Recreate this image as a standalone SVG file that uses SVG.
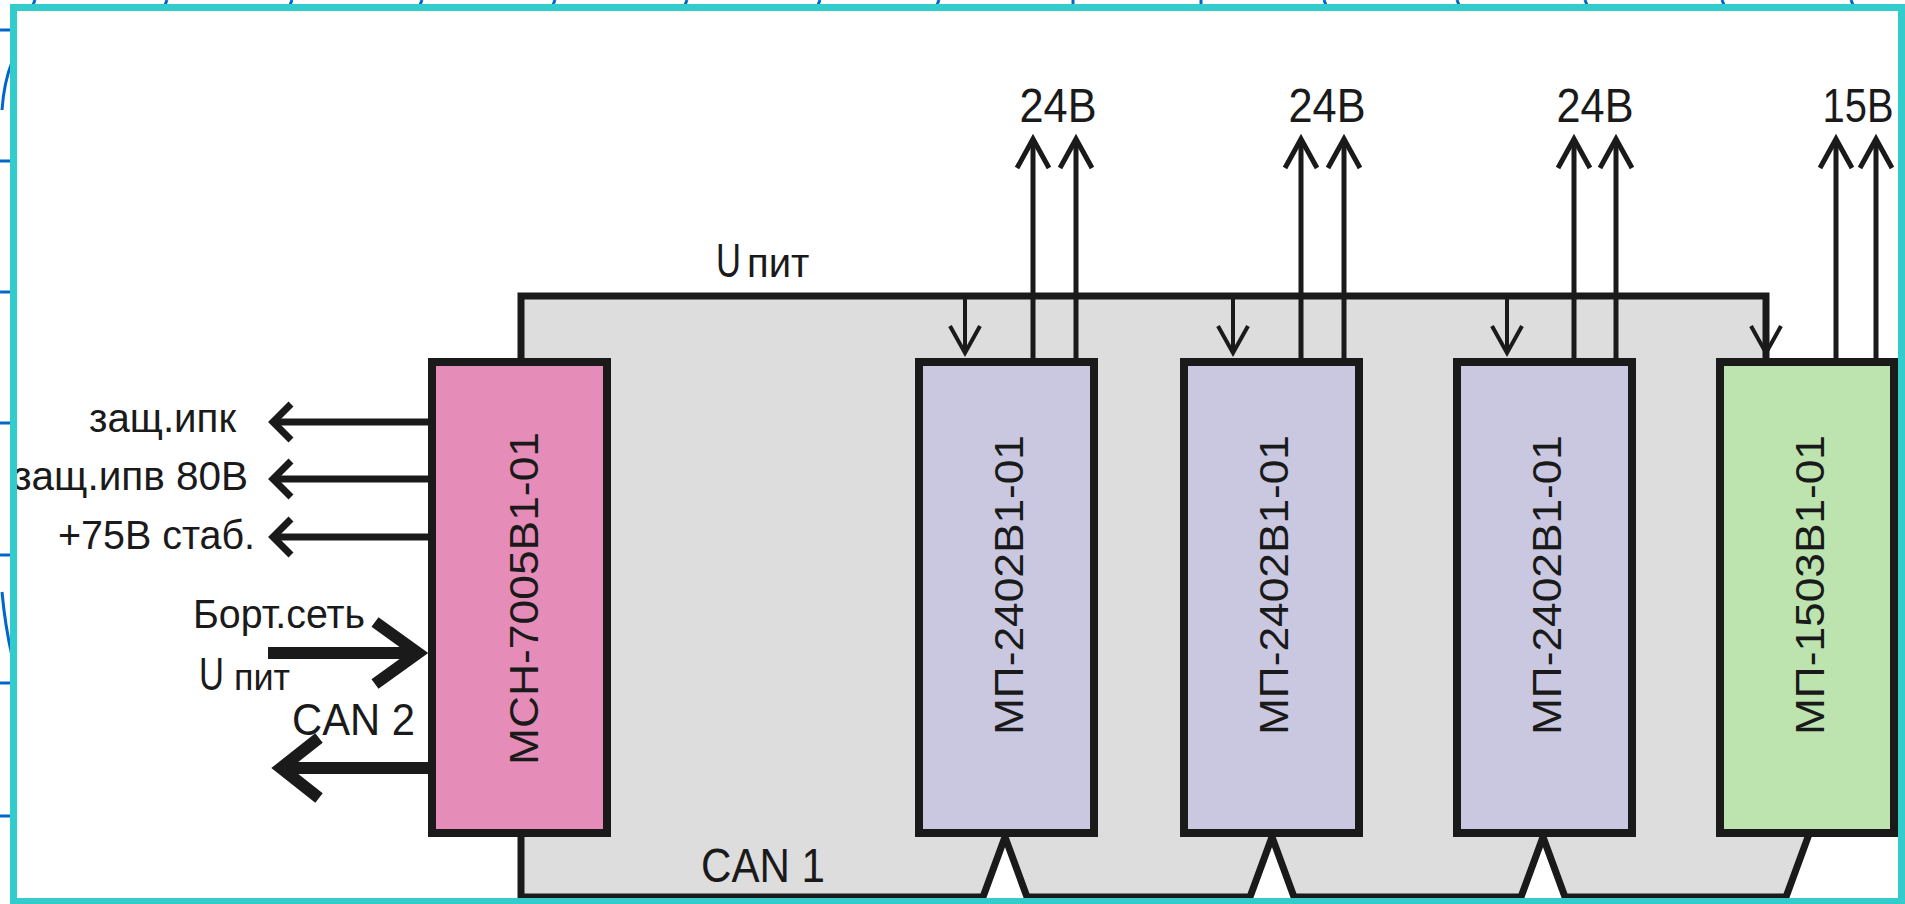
<svg xmlns="http://www.w3.org/2000/svg" xmlns:xlink="http://www.w3.org/1999/xlink" width="1905" height="904" viewBox="0 0 1905 904">
<style>
.t{font-family:"Liberation Sans",Arial,"DejaVu Sans",sans-serif;fill:#1a1a1a}
.box{stroke:#1a1a1a;stroke-width:8}
.mch{fill:#E68CB8}
.mp{fill:#C9C8E0}
.mpg{fill:#BDE4AF}
.bus{fill:#DDDDDD;stroke:#1a1a1a;stroke-width:7;stroke-linejoin:miter}
.w4{stroke:#1a1a1a;stroke-width:4;fill:none}
.w5{stroke:#1a1a1a;stroke-width:5;fill:none}
.w7{stroke:#1a1a1a;stroke-width:7;fill:none}
.w12{stroke:#1a1a1a;stroke-width:12;fill:none}
.blue{stroke:#0066CC;stroke-width:3;fill:none}
</style>
<defs>
<path id="hUp" d="M-16,29 L0,0 L16,29"/>
<path id="hDown" d="M-15,-27 L0,0 L15,-27"/>
<path id="hLeft" d="M18,-18 L0,0 L18,18"/>
<path id="hRightBig" d="M-43,-31 L0,0 L-43,31"/>
<path id="hLeftBig" d="M38,-30 L0,0 L38,30"/>
</defs>
<rect x="0" y="0" width="1905" height="904" fill="#ffffff"/>

<g id="background-marks">
<path class="blue" d="M0,30 H10 M0,161 H10 M0,292 H10 M0,423 H10 M0,555 H10 M0,683 H10 M0,816 H10"/>
<path class="blue" d="M12,62 Q4,82 2,110 M2,592 Q5,625 12,656"/>
<path class="blue" d="M35,0 L33,5 M167,0 L165,5 M292,0 L290,5 M422,0 L420,5 M555,0 L553,5 M687,0 L685,5 M820,0 L818,5 M939,0 L937,5 M1073,0 L1073,5 M1201,0 L1201,5 M1324,0 L1326,5 M1457,0 L1459,5 M1585,0 L1587,5 M1722,0 L1724,5 M1851,0 L1853,5"/>
</g>

<g id="panel">
<path class="bus" d="M521,296 H1766 V600 L1808,837 L1786,897 H1565 L1543,837 L1521,897 H1294 L1272,837 L1250,897 H1027 L1005,837 L983,897 H521 Z"/>
</g>

<g id="connectors">
<path class="w4" d="M965,296 V352 M1233,296 V352 M1507,296 V352 M1766,296 V352"/>
<use href="#hDown" class="w4" x="965" y="353"/>
<use href="#hDown" class="w4" x="1233" y="353"/>
<use href="#hDown" class="w4" x="1507" y="353"/>
<use href="#hDown" class="w4" x="1766" y="353"/>
<path class="w5" d="M1033,358 V140 M1076,358 V140 M1301,358 V140 M1344,358 V140 M1574,358 V140 M1616,358 V140 M1836,358 V140 M1876,358 V140"/>
<use href="#hUp" class="w5" x="1033" y="139"/>
<use href="#hUp" class="w5" x="1076" y="139"/>
<use href="#hUp" class="w5" x="1301" y="139"/>
<use href="#hUp" class="w5" x="1344" y="139"/>
<use href="#hUp" class="w5" x="1574" y="139"/>
<use href="#hUp" class="w5" x="1616" y="139"/>
<use href="#hUp" class="w5" x="1836" y="139"/>
<use href="#hUp" class="w5" x="1876" y="139"/>
<path class="w7" d="M430,422 H275 M430,479 H275 M430,537 H275"/>
<use href="#hLeft" class="w7" x="273" y="422"/>
<use href="#hLeft" class="w7" x="273" y="479"/>
<use href="#hLeft" class="w7" x="273" y="537"/>
<path class="w12" d="M268,653 H420"/>
<use href="#hRightBig" class="w12" x="418" y="653"/>
<path class="w12" d="M430,768 H284"/>
<use href="#hLeftBig" class="w12" x="281" y="768"/>
</g>

<g id="node-mch">
<rect class="box mch" x="432" y="362" width="175" height="471"/>
<text class="t" font-size="40" transform="translate(538,765) rotate(-90)" textLength="333" lengthAdjust="spacingAndGlyphs">МСН-7005В1-01</text>
</g>
<g id="node-mp1">
<rect class="box mp" x="919" y="362" width="175" height="471"/>
<text class="t" font-size="40" transform="translate(1023,735) rotate(-90)" textLength="300" lengthAdjust="spacingAndGlyphs">МП-2402В1-01</text>
</g>
<g id="node-mp2">
<rect class="box mp" x="1184" y="362" width="175" height="471"/>
<text class="t" font-size="40" transform="translate(1288,735) rotate(-90)" textLength="300" lengthAdjust="spacingAndGlyphs">МП-2402В1-01</text>
</g>
<g id="node-mp3">
<rect class="box mp" x="1457" y="362" width="175" height="471"/>
<text class="t" font-size="40" transform="translate(1561,735) rotate(-90)" textLength="300" lengthAdjust="spacingAndGlyphs">МП-2402В1-01</text>
</g>
<g id="node-mp4">
<rect class="box mpg" x="1720" y="362" width="174" height="471"/>
<text class="t" font-size="40" transform="translate(1824,735) rotate(-90)" textLength="300" lengthAdjust="spacingAndGlyphs">МП-1503В1-01</text>
</g>

<g id="labels">
<text class="t" font-size="48" x="1058" y="122" text-anchor="middle" textLength="77" lengthAdjust="spacingAndGlyphs">24В</text>
<text class="t" font-size="48" x="1327" y="122" text-anchor="middle" textLength="77" lengthAdjust="spacingAndGlyphs">24В</text>
<text class="t" font-size="48" x="1595" y="122" text-anchor="middle" textLength="77" lengthAdjust="spacingAndGlyphs">24В</text>
<text class="t" font-size="48" x="1858" y="122" text-anchor="middle" textLength="71" lengthAdjust="spacingAndGlyphs">15В</text>
<text class="t" y="277"><tspan x="716" font-size="48" textLength="25" lengthAdjust="spacingAndGlyphs">U</tspan><tspan x="747" font-size="40">пит</tspan></text>
<text class="t" font-size="40" x="89" y="432" textLength="147" lengthAdjust="spacingAndGlyphs">защ.ипк</text>
<text class="t" font-size="40" x="13" y="490" textLength="235" lengthAdjust="spacingAndGlyphs">защ.ипв 80В</text>
<text class="t" font-size="40" x="58" y="549" textLength="197" lengthAdjust="spacingAndGlyphs">+75В стаб.</text>
<text class="t" font-size="40" x="193" y="628" textLength="172" lengthAdjust="spacingAndGlyphs">Борт.сеть</text>
<text class="t" y="690"><tspan x="199" font-size="46" textLength="25" lengthAdjust="spacingAndGlyphs">U</tspan><tspan x="234" font-size="36">пит</tspan></text>
<text class="t" font-size="45" x="292" y="735" textLength="123" lengthAdjust="spacingAndGlyphs">CAN 2</text>
<text class="t" font-size="48" x="701" y="882" textLength="124" lengthAdjust="spacingAndGlyphs">CAN 1</text>
</g>

<g id="frame">
<rect x="13.5" y="7.5" width="1888" height="894" fill="none" stroke="#33CCCC" stroke-width="7"/>
</g>
</svg>
